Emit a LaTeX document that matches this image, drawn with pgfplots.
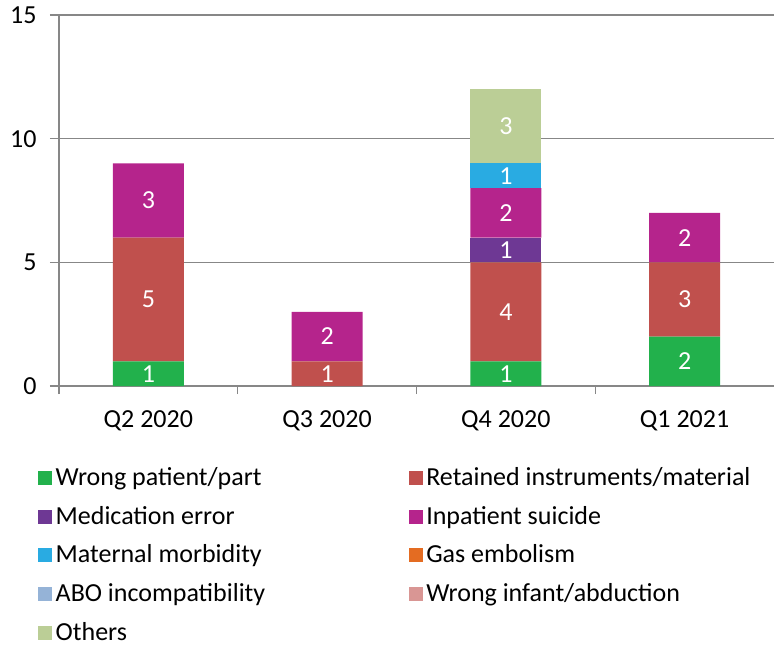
\documentclass[border=0pt]{standalone}
\usepackage{pgfplots}
\pgfplotsset{compat=1.18}
\usepackage{fontspec}
\setmainfont{Carlito}
\newcommand\cf{\fontsize{26bp}{31bp}\selectfont}
\definecolor{cWP}{HTML}{22B14C}
\definecolor{cRI}{HTML}{C0504D}
\definecolor{cME}{HTML}{6E3894}
\definecolor{cIS}{HTML}{B5248C}
\definecolor{cMM}{HTML}{29ABE2}
\definecolor{cGE}{HTML}{E46C22}
\definecolor{cABO}{HTML}{95B3D7}
\definecolor{cWI}{HTML}{D99694}
\definecolor{cOT}{HTML}{BBCE96}
\definecolor{axgray}{HTML}{878787}
\begin{document}
\begin{tikzpicture}
\begin{axis}[
  scale only axis, width=715bp, height=371bp,
  ybar stacked, bar width=71bp,
  xmin=-0.5, xmax=3.5, ymin=0, ymax=15,
  xtick={0,1,2,3}, xticklabels={Q2 2020,Q3 2020,Q4 2020,Q1 2021},
  minor xtick={-0.5,0.5,1.5,2.5},
  ytick={0,5,10,15},
  axis x line=bottom, axis y line=left,
  axis line style={-, draw=axgray, line width=1.3bp},
  ymajorgrids, major grid style={draw=axgray, line width=1.3bp},
  tick align=outside,
  major tick length=9bp, minor tick length=8bp,
  major x tick style={draw=none},
  minor x tick style={draw=axgray, line width=1.3bp},
  y tick style={draw=axgray, line width=1.3bp},
  tick label style={font=\cf, text=black},
  yticklabel style={xshift=-10bp},
  xticklabel style={yshift=-12bp},
  /pgf/number format/assume math mode=true,
  point meta=explicit symbolic,
  nodes near coords,
  every node near coord/.append style={font=\cf, text=white, anchor=center},
  legend columns=2,
  legend cell align=left,
  legend style={draw=none, fill=none, at={(0,0)}, anchor=north west, xshift=-21bp, yshift=-79bp,
    font=\cf, row sep=13.8bp, inner sep=0pt,
    nodes={inner xsep=3.5bp, inner ysep=0pt, text height=20bp, text depth=5bp},
    /tikz/every even column/.append style={column sep=140bp}},
  legend image code/.code={\fill[#1] (0bp,-7bp) rectangle (14bp,7bp);},
]
\addplot[fill=cWP, draw=none] coordinates {(0,1)[1] (1,0)[] (2,1)[1] (3,2)[2]};
\addlegendentry{Wrong patient/part}
\addplot[fill=cRI, draw=none] coordinates {(0,5)[5] (1,1)[1] (2,4)[4] (3,3)[3]};
\addlegendentry{Retained instruments/material}
\addplot[fill=cME, draw=none] coordinates {(0,0)[] (1,0)[] (2,1)[1] (3,0)[]};
\addlegendentry{Medication error}
\addplot[fill=cIS, draw=none] coordinates {(0,3)[3] (1,2)[2] (2,2)[2] (3,2)[2]};
\addlegendentry{Inpatient suicide}
\addplot[fill=cMM, draw=none] coordinates {(0,0)[] (1,0)[] (2,1)[1] (3,0)[]};
\addlegendentry{Maternal morbidity}
\addplot[fill=cGE, draw=none] coordinates {(0,0)[] (1,0)[] (2,0)[] (3,0)[]};
\addlegendentry{Gas embolism}
\addplot[fill=cABO, draw=none] coordinates {(0,0)[] (1,0)[] (2,0)[] (3,0)[]};
\addlegendentry{ABO incompatibility}
\addplot[fill=cWI, draw=none] coordinates {(0,0)[] (1,0)[] (2,0)[] (3,0)[]};
\addlegendentry{Wrong infant/abduction}
\addplot[fill=cOT, draw=none] coordinates {(0,0)[] (1,0)[] (2,3)[3] (3,0)[]};
\addlegendentry{Others}
\end{axis}
\pgfresetboundingbox
\path (-59bp,-259bp) rectangle (715bp,386bp);
\end{tikzpicture}
\end{document}
